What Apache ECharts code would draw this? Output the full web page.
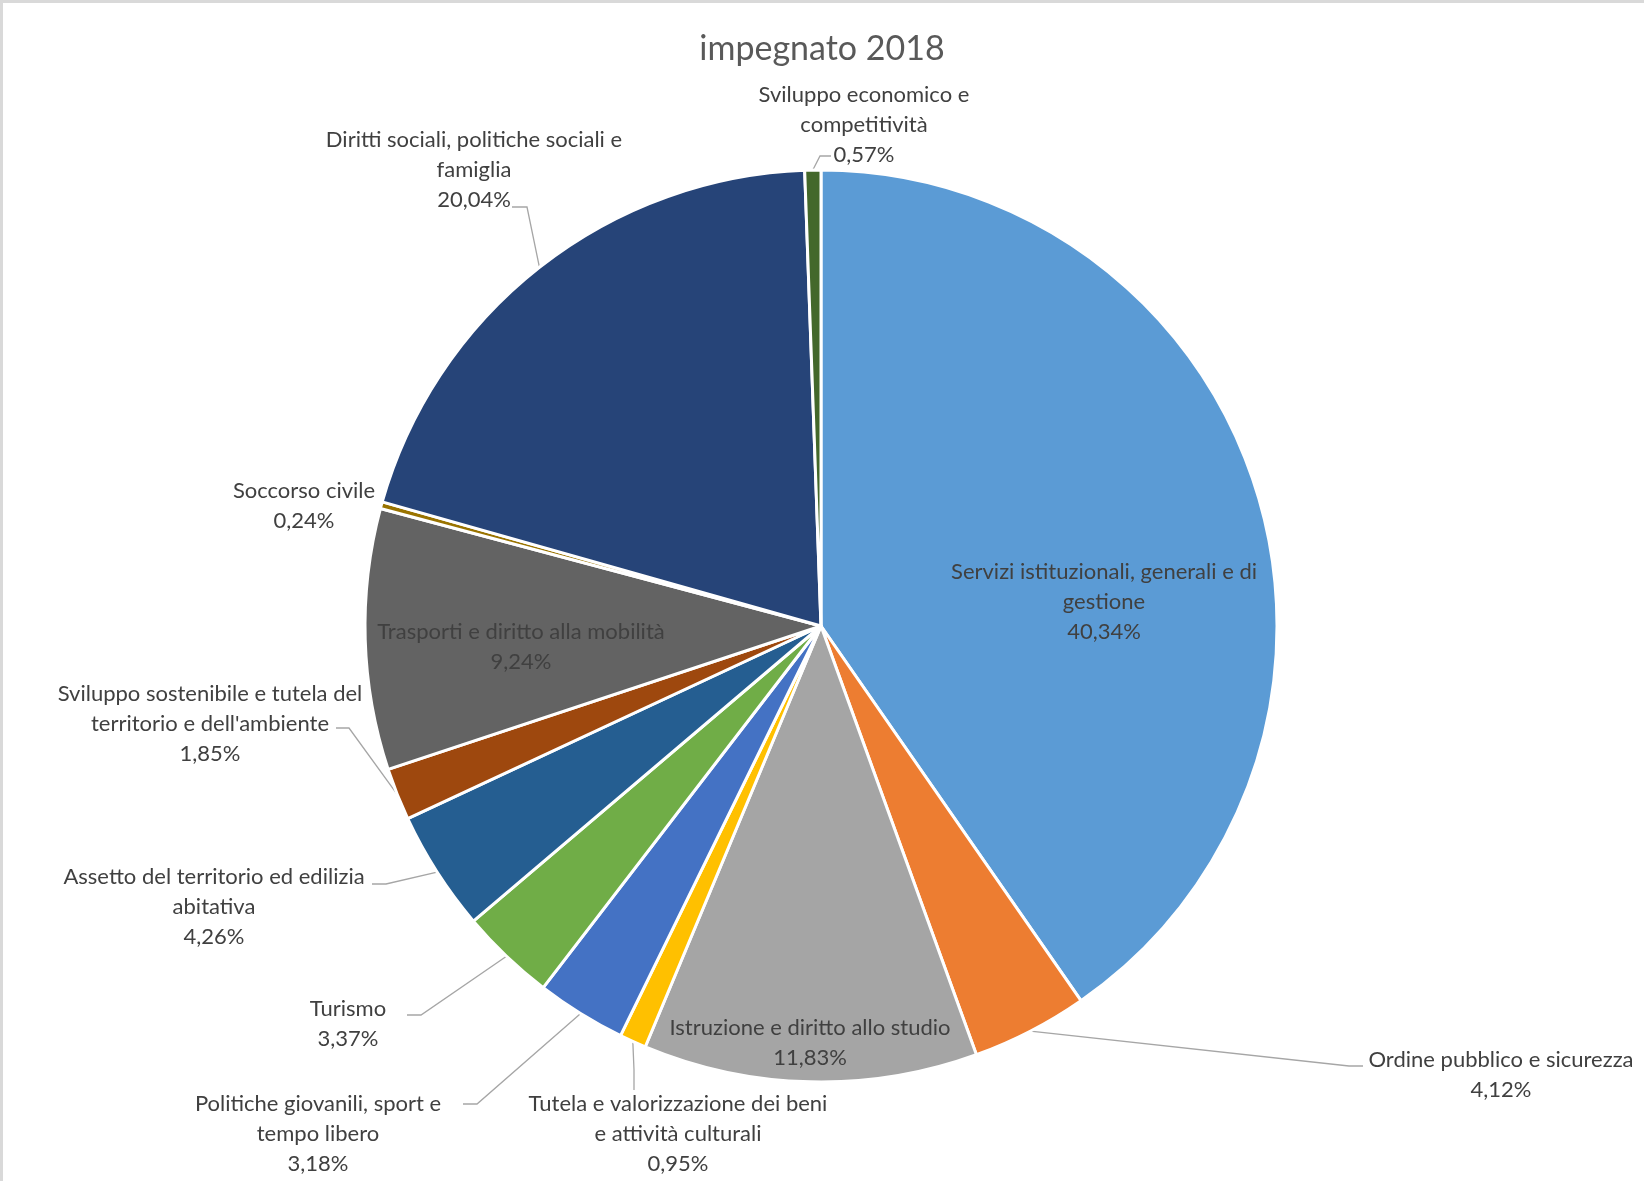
<!DOCTYPE html>
<html><head><meta charset="utf-8">
<script src="https://cdn.jsdelivr.net/npm/echarts@6/dist/echarts.min.js"></script>
<style>
html,body{margin:0;padding:0;background:#fff;}
#chart{position:absolute;left:0;top:0;width:1644px;height:1181px;}
#frame{position:absolute;left:0;top:0;width:1644px;height:1181px;box-sizing:border-box;border-top:3px solid #d9d9d9;border-left:3px solid #d9d9d9;pointer-events:none;}
</style>
</head><body><div id="chart"></div><div id="frame"></div>
<script>
// ---- data ----
const categories = [
  "Servizi istituzionali, generali e di gestione",
  "Ordine pubblico e sicurezza",
  "Istruzione e diritto allo studio",
  "Tutela e valorizzazione dei beni e attività culturali",
  "Politiche giovanili, sport e tempo libero",
  "Turismo",
  "Assetto del territorio ed edilizia abitativa",
  "Sviluppo sostenibile e tutela del territorio e dell'ambiente",
  "Trasporti e diritto alla mobilità",
  "Soccorso civile",
  "Diritti sociali, politiche sociali e famiglia",
  "Sviluppo economico e competitività"
];
const values = [40.34, 4.12, 11.83, 0.95, 3.18, 3.37, 4.26, 1.85, 9.24, 0.24, 20.04, 0.57];
const colors = ["#5B9BD5", "#ED7D31", "#A5A5A5", "#FFC000", "#4472C4", "#70AD47", "#255E91", "#9E480E", "#636363", "#997300", "#264478", "#43682B"];
const titleText = "impegnato 2018";

// ---- layout / style ----
const CX = 821, CY = 626, R = 456;
const firstLineWords = [5, 0, 0, 5, 4, 0, 5, 5, 0, 0, 5, 3];
const labelPos = [
  [1104, 602], [1501, 1075], [810, 1043], [678, 1134], [318, 1134], [348, 1024],
  [214, 907], [210, 724], [521, 647], [304, 506], [474, 170], [864, 125]
];
// leader: [elbow, attach] points (label side)
const leader = [
  null,
  [[1349, 1066], [1363, 1066]],
  null,
  [[634, 1070], [634, 1090]],
  [[477, 1104], [463, 1104]],
  [[421, 1015], [407, 1015]],
  [[386, 884], [372, 884]],
  [[349, 728], [336, 728]],
  null,
  null,
  [[527, 207], [512, 207]],
  [[820, 156], [831, 156]]
];

const TOTAL = values.reduce((a, b) => a + b, 0);
function edgePoint(i) {
  let c = 0;
  for (let k = 0; k < i; k++) c += values[k];
  const a = (c + values[i] / 2) / TOTAL * 2 * Math.PI;
  return [CX + R * Math.sin(a), CY - R * Math.cos(a)];
}
function wrapName(name, n) {
  if (!n) return name;
  const w = name.split(' ');
  if (w.length <= n) return name;
  return w.slice(0, n).join(' ') + '\n' + w.slice(n).join(' ');
}
function fmtPct(v) { return v.toFixed(2).replace('.', ',') + '%'; }

const data = categories.map((name, i) => ({
  name: name,
  value: values[i],
  itemStyle: { color: colors[i] },
  labelLine: { show: !!leader[i] }
}));

const chart = echarts.init(document.getElementById('chart'), null, { renderer: 'canvas' });
chart.setOption({
  backgroundColor: '#ffffff',
  animation: false,
  title: {
    text: titleText,
    left: 'center',
    top: 24,
    textStyle: { fontFamily: 'Lato', fontSize: 34, fontWeight: 'normal', color: '#595959', lineHeight: 40 }
  },
  series: [{
    type: 'pie',
    center: [CX, CY],
    radius: R,
    startAngle: 90,
    clockwise: true,
    avoidLabelOverlap: false,
    itemStyle: { borderColor: '#ffffff', borderWidth: 3 },
    label: {
      show: true,
      position: 'outside',
      fontFamily: 'Lato',
      fontSize: 22,
      lineHeight: 30,
      color: '#404040',
      align: 'center',
      formatter: p => wrapName(p.name, firstLineWords[p.dataIndex]) + '\n' + fmtPct(p.value)
    },
    labelLine: { show: true, lineStyle: { color: '#A6A6A6', width: 1.3 }, smooth: false },
    labelLayout: function (params) {
      const i = params.dataIndex;
      const out = { x: labelPos[i][0], y: labelPos[i][1], align: 'center', verticalAlign: 'middle' };
      if (leader[i]) {
        out.labelLinePoints = [edgePoint(i), leader[i][0], leader[i][1]];
      }
      return out;
    },
    data: data
  }]
});
</script>
</body></html>
